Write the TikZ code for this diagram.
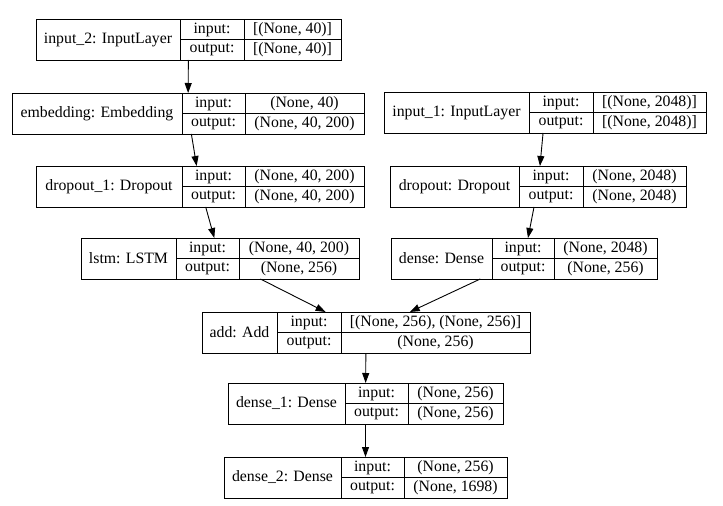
\documentclass[tikz,border=0pt]{standalone}
\usepackage{fontspec}
\setmainfont{Liberation Serif}
\usetikzlibrary{arrows.meta}

\tikzset{
  capa/.style={draw, line width=0.9pt, inner sep=0pt, outer sep=0pt},
  texto/.style={inner sep=0pt, font=\fontsize{15.8}{18}\selectfont},
  linea/.style={line width=0.9pt},
  flecha/.style={-{Triangle[length=10pt,width=7pt]}, line width=0.9pt}
}

% #1 nombre, #2 izq, #3 div1, #4 div2, #5 der, #6 arriba, #7 etiqueta, #8 entrada, #9 salida
\newcommand{\kcapa}[9]{
  \node[capa, minimum width={#5-#2}, minimum height=41] (#1) at ({(#2+#5)/2},{-#6-20.5}) {};
  \draw[linea] (#3,-#6) -- (#3,-#6-41);
  \draw[linea] (#4,-#6) -- (#4,-#6-41);
  \draw[linea] (#3,-#6-20.5) -- (#5,-#6-20.5);
  \node[texto] (#1-lbl) at ({(#2+#3)/2},{-#6-20.5}) {#7};
  \node[texto] (#1-in) at ({(#3+#4)/2},{-#6-10.5}) {input:};
  \node[texto] (#1-out) at ({(#3+#4)/2},{-#6-30.5}) {output:};
  \node[texto] (#1-inv) at ({(#4+#5)/2},{-#6-10.5}) {#8};
  \node[texto] (#1-outv) at ({(#4+#5)/2},{-#6-30.5}) {#9};
}

\begin{document}
\begin{tikzpicture}[x=1pt, y=1pt]
  \useasboundingbox (0,0) rectangle (723,-506);

  %Rama izq
  \kcapa{input2}{36}{180}{244}{341}{19}{input\_2: InputLayer}{[(None, 40)]}{[(None, 40)]}
  \kcapa{embedding}{12}{182}{245}{364}{93}{embedding: Embedding}{(None, 40)}{(None, 40, 200)}
  \kcapa{dropout1}{36}{182}{245}{364}{166}{dropout\_1: Dropout}{(None, 40, 200)}{(None, 40, 200)}
  \kcapa{lstm}{81}{176}{239}{359}{238}{lstm: LSTM}{(None, 40, 200)}{(None, 256)}

  %Rama der
  \kcapa{input1}{384}{529}{593}{706}{92}{input\_1: InputLayer}{[(None, 2048)]}{[(None, 2048)]}
  \kcapa{dropout}{390}{519}{583}{686}{166}{dropout: Dropout}{(None, 2048)}{(None, 2048)}
  \kcapa{dense}{391}{492}{554}{657}{238}{dense: Dense}{(None, 2048)}{(None, 256)}

  %Abajo
  \kcapa{add}{202}{277}{341}{530}{312}{add: Add}{[(None, 256), (None, 256)]}{(None, 256)}
  \kcapa{dense1}{228}{345}{408}{503}{383}{dense\_1: Dense}{(None, 256)}{(None, 256)}
  \kcapa{dense2}{224}{341}{404}{507}{457}{dense\_2: Dense}{(None, 256)}{(None, 1698)}

  %Flechas
  \draw[flecha] (input2) -- (embedding);
  \draw[flecha] (embedding) -- (dropout1);
  \draw[flecha] (dropout1) -- (lstm);
  \draw[flecha] (input1) -- (dropout);
  \draw[flecha] (dropout) -- (dense);
  \draw[flecha] (lstm) -- (add);
  \draw[flecha] (dense) -- (add);
  \draw[flecha] (add) -- (dense1);
  \draw[flecha] (dense1) -- (dense2);
\end{tikzpicture}
\end{document}
